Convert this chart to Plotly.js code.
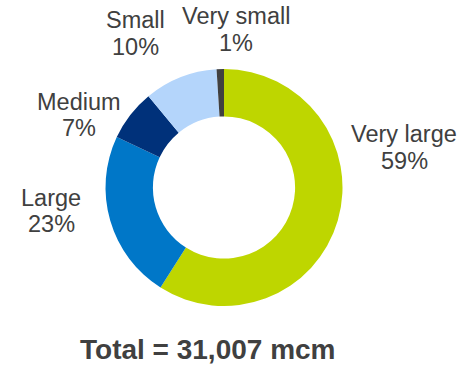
<!DOCTYPE html>
<html>
<head>
<meta charset="utf-8">
<script src="https://cdn.plot.ly/plotly-3.0.1.min.js"></script>
<style>html,body{margin:0;padding:0;background:#fff;}#chart{width:460px;height:366px;}</style>
</head>
<body>
<div id="chart"></div>
<script>
// Data
const categories = ["Very large", "Large", "Medium", "Small", "Very small"];
const shares = [59, 23, 7, 10, 1];
const totalLabel = "Total = 31,007 mcm";

// Styling (kept separate from data)
const colors = ["#bed600", "#0077c8", "#00317a", "#b4d5fb", "#404040"];
// pixel x-centre and baselines of name line / percent line
const labelPos = [[404, 142.7, 169.5], [51, 206.5, 232], [79, 110.5, 136.7], [135, 28.3, 55], [236, 24, 51.7]];
const W = 460, H = 366;
const cx = 224, cy = 187.5, R = 118.5;
const FS = 23.5, TFS = 28;

const trace = {
  type: "pie",
  labels: categories,
  values: shares,
  hole: 0.6,
  sort: false,
  direction: "clockwise",
  rotation: 0,
  textinfo: "none",
  hoverinfo: "label+percent",
  marker: { colors: colors, line: { width: 0 } },
  domain: { x: [(cx - R) / W, (cx + R) / W], y: [(H - cy - R) / H, (H - cy + R) / H] },
  showlegend: false
};

const font = { family: "Liberation Sans, Arial, sans-serif", size: FS, color: "#404040" };
function ann(text, x, baseline, f) {
  return {
    xref: "paper", yref: "paper",
    x: x / W, y: 1 - (baseline - 0.36 * f.size) / H,
    xanchor: "center", yanchor: "middle",
    text: text, showarrow: false, font: f
  };
}
const annotations = [];
categories.forEach((c, i) => {
  annotations.push(ann(c, labelPos[i][0], labelPos[i][1], font));
  annotations.push(ann(shares[i] + "%", labelPos[i][0], labelPos[i][2], font));
});
annotations.push(ann("<b>" + totalLabel + "</b>", 208, 359.5,
  { family: "Liberation Sans, Arial, sans-serif", size: TFS, color: "#404040" }));

const layout = {
  width: W, height: H,
  margin: { l: 0, r: 0, t: 0, b: 0 },
  paper_bgcolor: "#ffffff",
  annotations: annotations
};

Plotly.newPlot("chart", [trace], layout, { displayModeBar: false, staticPlot: true });
</script>
</body>
</html>
